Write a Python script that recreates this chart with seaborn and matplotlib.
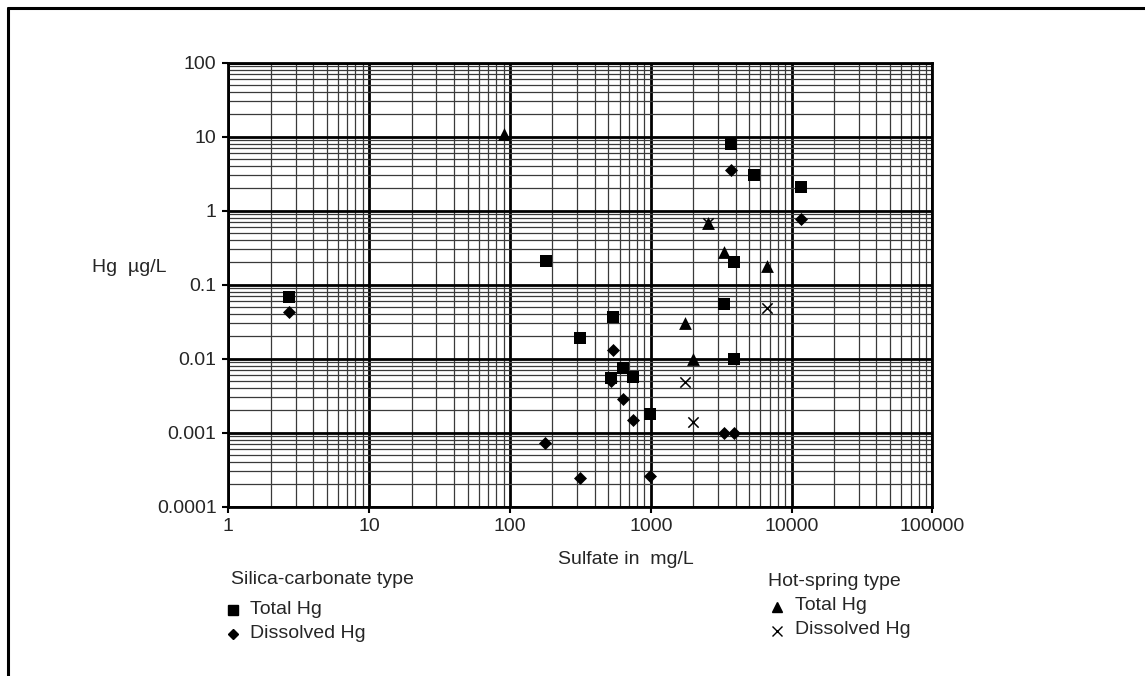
import pandas as pd
import matplotlib.pyplot as plt
import matplotlib.ticker as mticker
from matplotlib.lines import Line2D
import seaborn as sns

# Datos (sulfato en mg/L, Hg en ug/L)
sc_total_x = [2.7, 180, 315, 540, 525, 630, 745, 980, 3700, 5400, 11700, 3900, 3300, 3900]
sc_total_y = [0.067, 0.21, 0.019, 0.037, 0.0055, 0.0074, 0.0057, 0.0018, 8.0, 3.0, 2.1, 0.2, 0.054, 0.01]

sc_dis_x = [2.7, 177, 315, 540, 525, 630, 745, 980, 3700, 11700, 3300, 3900]
sc_dis_y = [0.042, 0.00073, 0.00024, 0.013, 0.005, 0.0028, 0.0015, 0.00026, 3.6, 0.77, 0.001, 0.001]

hs_total_x = [90, 2550, 3300, 6700, 1750, 2000]
hs_total_y = [11.0, 0.68, 0.28, 0.18, 0.03, 0.01]

hs_dis_x = [2550, 6700, 1750, 2000]
hs_dis_y = [0.68, 0.049, 0.0048, 0.0014]

x_ticks = [1, 10, 100, 1000, 10000, 100000]
y_ticks = [0.0001, 0.001, 0.01, 0.1, 1, 10, 100]

sns.set_theme(style='white')
plt.rcParams['font.family'] = ['Liberation Sans', 'DejaVu Sans']

fig = plt.figure(figsize=(11.45, 6.76), dpi=100)
ax = fig.add_axes([0.1994, 0.2507, 0.8144 - 0.1994, 0.9072 - 0.2507])

sns.scatterplot(x=sc_total_x, y=sc_total_y, marker='s', s=64, color='black',
                edgecolor='black', linewidth=0, ax=ax, zorder=5)
sns.scatterplot(x=sc_dis_x, y=sc_dis_y, marker='D', s=44, color='black',
                edgecolor='black', linewidth=0, ax=ax, zorder=5)
sns.scatterplot(x=hs_total_x, y=hs_total_y, marker='^', s=85, color='black',
                edgecolor='black', linewidth=0, ax=ax, zorder=5)
sns.scatterplot(x=hs_dis_x, y=hs_dis_y, marker='x', s=55, color='black',
                linewidth=1.1, ax=ax, zorder=5)

ax.set_xscale('log')
ax.set_yscale('log')
ax.set_xlim(1, 100000)
ax.set_ylim(0.0001, 100)

ax.xaxis.set_major_locator(mticker.FixedLocator(x_ticks))
ax.yaxis.set_major_locator(mticker.FixedLocator(y_ticks))
ax.xaxis.set_minor_locator(mticker.LogLocator(base=10, subs=range(2, 10), numticks=20))
ax.yaxis.set_minor_locator(mticker.LogLocator(base=10, subs=range(2, 10), numticks=20))
fmt = mticker.FuncFormatter(lambda v, p: '{:g}'.format(v))
ax.xaxis.set_major_formatter(fmt)
ax.yaxis.set_major_formatter(fmt)
ax.xaxis.set_minor_formatter(mticker.NullFormatter())
ax.yaxis.set_minor_formatter(mticker.NullFormatter())

ax.grid(which='major', color='black', linewidth=2.0)
ax.grid(which='minor', color='#3a3a3a', linewidth=0.9)
ax.set_axisbelow(True)
for sp in ax.spines.values():
    sp.set_color('black')
    sp.set_linewidth(2.0)

ax.tick_params(which='major', direction='out', length=4.5, width=1.5, color='black',
               labelsize=14, pad=4, bottom=True, left=True)
ax.tick_params(which='minor', length=0)

ax.set_xlabel('')
ax.set_ylabel('')

# Etiquetas de los ejes
fig.text(92 / 1145, 1 - 268 / 676, 'Hg  \u00b5g/L', fontsize=14, va='center', ha='left')
fig.text(626 / 1145, 1 - 560 / 676, 'Sulfate in  mg/L', fontsize=14, va='center', ha='center')

# Leyendas
fig.text(231 / 1145, 1 - 580 / 676, 'Silica-carbonate type', fontsize=14, va='center')
fig.add_artist(Line2D([233 / 1145], [1 - 610 / 676], marker='s', markersize=7,
                      color='black', linestyle='none'))
fig.text(250 / 1145, 1 - 610 / 676, 'Total Hg', fontsize=14, va='center')
fig.add_artist(Line2D([233 / 1145], [1 - 634 / 676], marker='D', markersize=5,
                      color='black', linestyle='none'))
fig.text(250 / 1145, 1 - 634 / 676, 'Dissolved Hg', fontsize=14, va='center')

fig.text(768 / 1145, 1 - 581 / 676, 'Hot-spring type', fontsize=14, va='center')
fig.add_artist(Line2D([777 / 1145], [1 - 607 / 676], marker='^', markersize=7.5,
                      color='black', linestyle='none'))
fig.text(795 / 1145, 1 - 606 / 676, 'Total Hg', fontsize=14, va='center')
fig.add_artist(Line2D([777 / 1145], [1 - 631 / 676], marker='x', markersize=6.5,
                      color='black', linestyle='none', markeredgewidth=1.0))
fig.text(795 / 1145, 1 - 630 / 676, 'Dissolved Hg', fontsize=14, va='center')

# Marco exterior
fig.add_artist(Line2D([7.5 / 1145, 1.0], [1 - 7.5 / 676, 1 - 7.5 / 676],
                      color='black', linewidth=2.2))
fig.add_artist(Line2D([7.5 / 1145, 7.5 / 1145], [0.0, 1 - 7.5 / 676],
                      color='black', linewidth=2.2))

fig.savefig('out.png', dpi=100)
